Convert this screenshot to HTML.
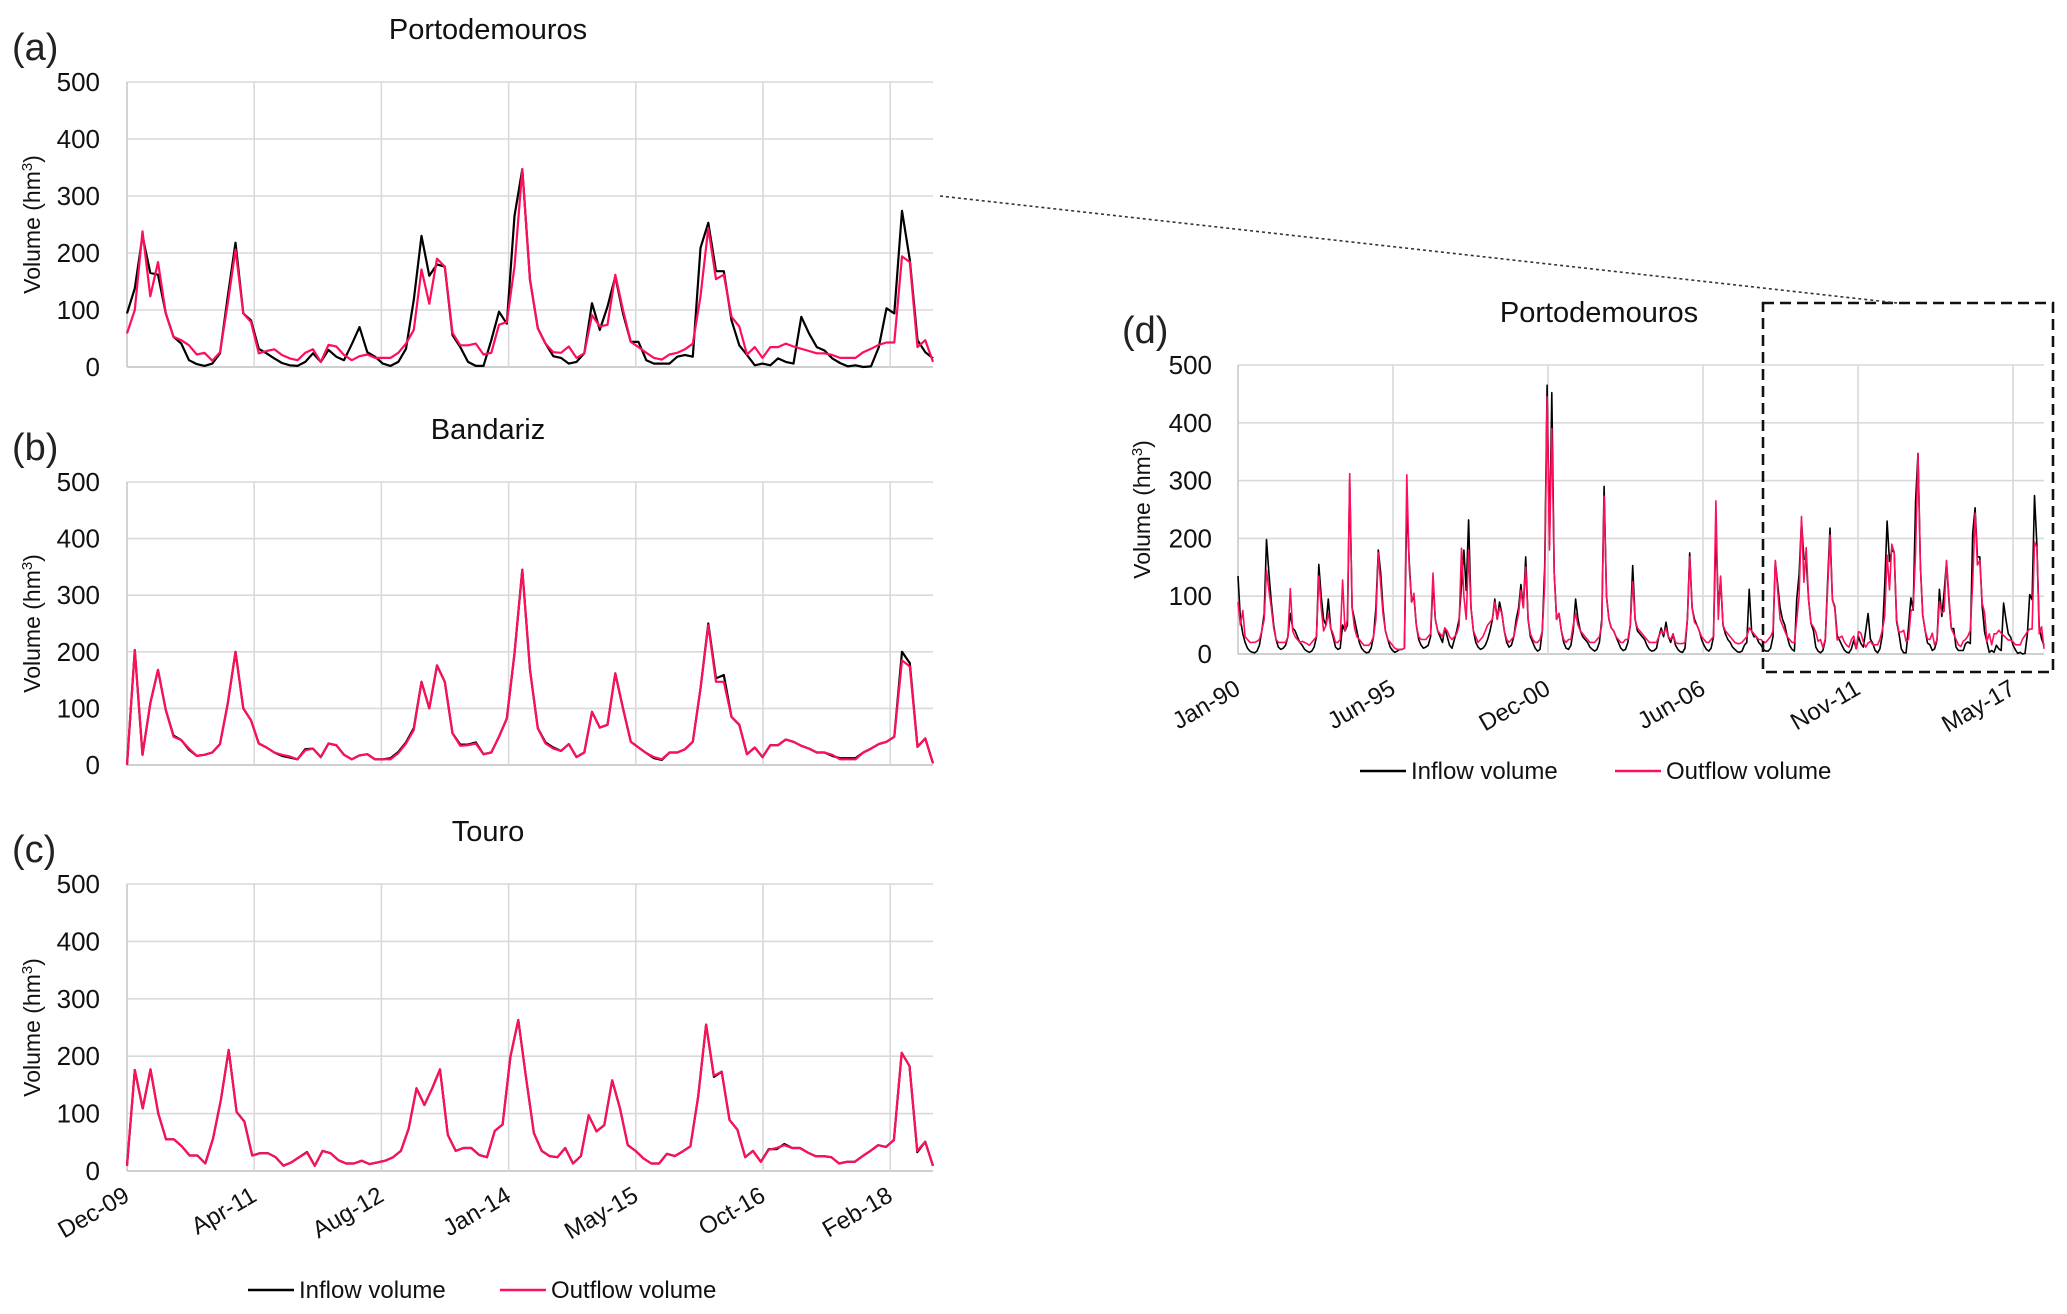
<!DOCTYPE html>
<html><head><meta charset="utf-8"><style>
html,body{margin:0;padding:0;background:#fff}
svg{display:block;font-family:"Liberation Sans",sans-serif}
</style></head><body>
<svg id="fig" width="2067" height="1314" viewBox="0 0 2067 1314" xmlns="http://www.w3.org/2000/svg"></svg>
<script>
// ---- data ----
const yTicks = [0,100,200,300,400,500];
const smallXLabels = ["Dec-09","Apr-11","Aug-12","Jan-14","May-15","Oct-16","Feb-18"];
const bigXLabels = ["Jan-90","Jun-95","Dec-00","Jun-06","Nov-11","May-17"];
const portoInflow = [94,138,230,165,162,94,53,41,12,5,2,6,24,124,218,94,82,32,24,15,7,3,2,9,24,9,30,18,12,40,70,26,18,6,2,9,32,118,230,160,180,176,56,35,9,2,2,47,97,76,265,347,153,68,
41,19,16,6,9,24,112,65,106,159,94,44,44,12,6,6,6,18,21,18,209,253,168,168,82,38,21,3,6,3,15,9,6,88,59,35,29,15,7,1,3,0,1,35,103,94,274,188,47,26,15];
const portoOutflow = [59,100,238,124,184,94,53,47,38,22,25,11,26,112,206,94,79,24,28,31,21,15,12,25,31,9,39,36,21,12,19,22,16,16,16,25,41,65,171,111,190,176,60,38,38,41,22,25,74,79,176,347,153,68,
41,26,25,36,16,24,91,71,74,162,100,44,35,25,16,13,22,25,31,41,124,244,154,162,88,71,22,35,16,35,35,41,36,32,28,24,24,21,16,16,16,26,32,39,43,43,194,184,35,47,9];
const bandOutflow = [0,203,18,109,168,97,50,44,29,16,18,22,37,109,200,100,79,38,31,22,18,15,10,26,29,14,38,35,18,10,17,19,10,10,10,21,38,62,147,100,176,147,56,34,35,38,19,22,50,82,197,345,168,65,38,29,25,37,14,22,94,66,71,162,100,41,31,21,14,10,22,22,28,41,135,247,147,147,85,71,19,31,14,35,35,45,41,34,29,22,22,18,10,10,10,22,29,37,41,50,185,174,32,47,3];
const bandInflow = [0,203,18,109,168,97,52,44,27,16,18,22,37,109,200,100,79,38,31,22,16,13,10,28,29,14,38,35,18,10,17,19,10,10,12,23,40,65,147,100,176,147,56,36,36,40,19,22,50,82,197,345,168,65,40,31,25,37,14,22,94,66,71,162,100,41,31,21,12,9,22,22,28,41,135,250,153,159,85,71,19,31,14,35,35,45,41,34,29,22,22,16,12,12,12,22,29,37,41,50,200,180,32,47,3];
const touroOutflow = [9,176,109,177,100,55,55,43,27,27,13,57,124,211,103,86,27,31,31,24,9,15,24,32,9,35,31,19,13,13,18,12,15,18,24,35,74,144,115,144,177,63,35,40,40,28,24,70,81,199,263,162,66,35,26,24,40,13,26,97,69,80,158,109,45,35,22,13,13,30,26,34,43,130,255,166,173,89,72,24,35,16,37,40,45,40,40,32,26,26,24,13,16,16,26,35,45,42,54,206,183,35,51,9];
const touroInflow = [9,176,109,177,100,55,55,43,27,27,13,57,124,211,103,86,27,31,31,24,9,15,24,33,9,35,31,19,13,13,18,12,15,18,24,35,74,144,115,144,177,63,35,40,40,28,24,70,81,199,263,162,66,35,26,24,40,13,26,97,69,80,158,109,45,35,22,13,13,30,26,34,43,130,255,164,173,89,72,24,35,16,38,38,47,40,40,32,26,26,24,13,16,16,26,35,45,42,54,206,183,33,51,9];
const longInflowEarly = [
135,60,35,20,10,5,3,2,5,15,40,70,
198,140,90,50,25,12,8,10,15,30,70,45,
40,30,20,15,8,5,3,5,12,30,155,100,
60,50,95,45,30,12,8,10,50,40,50,300,
80,60,40,20,10,5,2,3,10,30,80,180,
140,80,40,25,12,6,3,5,8,8,10,260,
160,90,100,50,25,15,10,12,15,30,125,60,
40,30,20,45,30,15,10,25,40,60,120,180,
110,232,80,40,20,12,8,10,15,25,40,60,
95,60,90,70,40,20,12,15,30,60,80,120,
80,168,60,30,20,10,5,8,40,150,465,190,
452,140,60,70,40,20,10,8,15,40,95,60,
40,30,25,20,12,8,5,8,20,60,290,100,
60,45,40,30,20,10,6,8,20,50,153,60,
40,35,30,25,15,8,5,6,10,30,45,30,
55,30,20,35,15,8,4,3,10,60,175,80,
60,50,40,25,15,8,5,10,30,215,80,130,
50,35,25,20,12,8,4,3,5,15,20,112,
40,30,30,20,15,8,5,5,10,30,160,120,
80,60,50,30,15,8,5];
const longOutflowEarly = [
90,50,75,30,25,20,20,20,22,25,40,60,
145,110,80,45,25,20,20,20,20,30,113,40,
30,25,20,22,20,18,15,20,25,30,135,80,
40,50,70,45,35,20,20,25,128,40,60,312,
80,45,30,25,20,15,15,15,20,30,60,175,
120,70,40,25,20,15,10,8,8,8,10,310,
150,90,105,50,30,25,25,25,30,35,140,60,
40,35,30,45,40,30,25,30,35,50,183,100,
60,180,80,40,30,20,25,30,40,50,55,60,
90,60,80,70,40,25,20,25,30,50,70,110,
80,150,60,35,25,20,20,25,40,120,445,180,
390,140,60,70,40,25,20,25,25,50,70,50,
40,35,30,25,20,20,20,25,30,50,273,100,
60,45,40,30,25,20,20,25,25,50,125,60,
45,40,35,30,25,20,20,20,20,30,40,35,
45,30,25,35,20,18,18,18,20,60,168,80,
55,50,40,30,25,20,20,25,30,265,60,135,
50,40,35,30,25,20,18,18,20,25,30,45,
40,35,30,25,25,20,20,25,30,40,162,110,
60,50,40,30,25,20,20];
const longInflow = longInflowEarly.concat(portoInflow);
const longOutflow = longOutflowEarly.concat(portoOutflow);

// ---- drawing ----
const NS = "http://www.w3.org/2000/svg";
const svg = document.getElementById("fig");
function mk(tag, attrs, parent){
  const e = document.createElementNS(NS, tag);
  for (const k in attrs) e.setAttribute(k, attrs[k]);
  (parent||svg).appendChild(e);
  return e;
}
const INK = "#000", PINK = "#ff0f5a";

function chart(cfg){
  const g = mk("g", {});
  
  
  const L=cfg.left, R=cfg.right, T=cfg.top, B=cfg.bottom;
  const yS = v => B - (v/500)*(B-T);
  yTicks.forEach(t=>{
    const ln = mk("line",{x1:L,x2:R,y1:yS(t),y2:yS(t),stroke: t===0?"#bfbfbf":"#d9d9d9","stroke-width":1.6},g);
    
    
    const tx = mk("text",{x:cfg.tickRight,y:yS(t)+9,"text-anchor":"end","font-size":26,fill:"#111"},g);
    tx.textContent = t;
    
    
  });
  for(let k=0;k*cfg.vStep+L<=R+1;k++){
    const x=L+k*cfg.vStep;
    const ln = mk("line",{x1:x,x2:x,y1:T,y2:B,stroke:k===0?"#c8c8c8":"#d9d9d9","stroke-width":1.6},g);
    
    
    if(cfg.xLabels && cfg.xLabels[k]){
      const tx = mk("text",{x:x+4,y:cfg.xLabelY,"text-anchor":"end","font-size":24,fill:"#111",transform:`rotate(-30 ${x+4} ${cfg.xLabelY})`},g);
      tx.textContent = cfg.xLabels[k];
      
      
    }
  }
  const series = [[cfg.inflow, INK, 'inflow-line'], [cfg.outflow, PINK, 'outflow-line']];
  series.forEach(([arr,col,nm])=>{
    const n = arr.length;
    const xS = i => L + i*(R-L)/(n-1);
    const pts = arr.map((v,i)=>xS(i).toFixed(1)+","+yS(v).toFixed(1)).join(" ");
    const pl = mk("polyline",{points:pts,fill:"none",stroke:col,"stroke-width":cfg.lw,"stroke-linejoin":"round"},g);
    
    
  });
  const tt = mk("text",{x:cfg.titleX,y:T-43,"text-anchor":"middle","font-size":29,fill:"#111"},g);
  tt.textContent = cfg.title;
  
  
  const pl = mk("text",{x:cfg.panelX,y:T-22,"font-size":38,fill:"#222"},g);
  pl.textContent = cfg.panel;
  
  
  const yc=(T+B)/2;
  const yt = mk("text",{x:cfg.yTitleX,y:yc,"text-anchor":"middle","font-size":23,fill:"#111",transform:`rotate(-90 ${cfg.yTitleX} ${yc})`},g);
  yt.innerHTML = 'Volume (hm<tspan font-size="15" dy="-8">3</tspan><tspan dy="8">)</tspan>';
  
  
}

chart({name:'chart-a-portodemouros',left:127,right:933,top:82,bottom:367,vStep:127.2,tickRight:100,yTitleX:40,titleX:488,title:'Portodemouros',panel:'(a)',panelX:12,inflow:portoInflow,outflow:portoOutflow,lw:2.2});
chart({name:'chart-b-bandariz',left:127,right:933,top:482,bottom:765,vStep:127.2,tickRight:100,yTitleX:40,titleX:488,title:'Bandariz',panel:'(b)',panelX:12,inflow:bandInflow,outflow:bandOutflow,lw:2.2});
chart({name:'chart-c-touro',left:127,right:933,top:884,bottom:1171,vStep:127.2,tickRight:100,yTitleX:40,titleX:488,title:'Touro',panel:'(c)',panelX:12,inflow:touroInflow,outflow:touroOutflow,lw:2.2,xLabels:smallXLabels,xLabelY:1200});
chart({name:'chart-d-portodemouros-long',left:1238,right:2044,top:365,bottom:654,vStep:155,tickRight:1212,yTitleX:1150,titleX:1599,title:'Portodemouros',panel:'(d)',panelX:1122,inflow:longInflow,outflow:longOutflow,lw:1.6,xLabels:bigXLabels,xLabelY:693});

function legend(x1,x2,y){
  const g = mk("g",{});
  
  
  [[x1,INK,'Inflow volume','legend-entry-inflow'],[x2,PINK,'Outflow volume','legend-entry-outflow']].forEach(([x,c,t,nm])=>{
    const e = mk("g",{},g);
    
    
    mk("line",{x1:x,x2:x+46,y1:y,y2:y,stroke:c,"stroke-width":2.5},e);
    const tx = mk("text",{x:x+51,y:y+8,"font-size":24,fill:"#111"},e);
    tx.textContent=t;
  });
}
legend(248,500,1290);
legend(1360,1615,771);

const box = mk("rect",{x:1763,y:303,width:290,height:369,fill:"none",stroke:"#111","stroke-width":2.6,"stroke-dasharray":"11,6"});


const con = mk("line",{x1:940,y1:196,x2:1897,y2:303,stroke:"#333","stroke-width":1.6,"stroke-dasharray":"3,3"});


</script>
</body></html>
